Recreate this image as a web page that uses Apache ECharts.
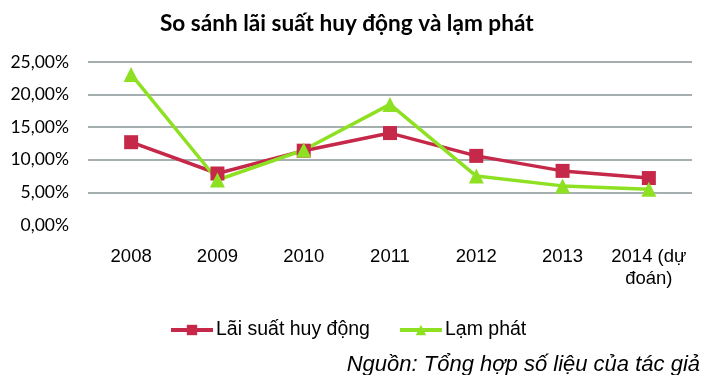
<!DOCTYPE html>
<html><head><meta charset="utf-8">
<script src="https://cdn.jsdelivr.net/npm/echarts@6/dist/echarts.min.js"></script>
<style>html,body{margin:0;padding:0;background:#fff}#c{width:709px;height:375px}</style>
</head><body><div id="c"></div>
<script>
const categories = ['2008','2009','2010','2011','2012','2013','2014 (dự\nđoán)'];
const laiSuat = [12.7, 7.9, 11.4, 14.1, 10.6, 8.3, 7.2];
const lamPhat = [23.1, 6.9, 11.5, 18.5, 7.5, 6.0, 5.5];
const yTicks = [0, 5, 10, 15, 20, 25];

const chart = echarts.init(document.getElementById('c'));
const gridColor = '#879595';
chart.setOption({
  animation: false,
  title: {
    text: 'So sánh lãi suất huy động và lạm phát',
    left: 155, top: 7,
    textStyle: {fontFamily: 'Lato', fontWeight: 'bold', fontSize: 22.6, color: '#000'}
  },
  graphic: [{
    type: 'text', right: 9, top: 354,
    style: {text: 'Nguồn: Tổng hợp số liệu của tác giả', font: 'italic 22px "Liberation Sans"', fill: '#000'}
  }],
  legend: {
    top: 315, left: 164, itemGap: 28, itemWidth: 42, itemHeight: 13,
    lineStyle: {width: 4},
    textStyle: {fontFamily: 'Liberation Sans', fontSize: 19.5, color: '#000', padding: [0,0,0,-2]},
    data: ['Lãi suất huy động', 'Lạm phát']
  },
  grid: {left: 88, right: 17, top: 62, bottom: 150},
  xAxis: {
    type: 'category', data: categories, boundaryGap: true,
    axisLine: {show: false}, axisTick: {show: false},
    axisLabel: {interval: 0, hideOverlap: false, fontFamily: 'Liberation Sans', fontSize: 18.5, color: '#000', margin: 21, lineHeight: 22}
  },
  yAxis: {
    type: 'value', min: yTicks[0], max: yTicks[yTicks.length-1], interval: 5,
    axisLine: {show: false}, axisTick: {show: false},
    axisLabel: {fontFamily: 'Lato', fontSize: 17.5, color: '#000', margin: 19,
      formatter: v => v.toFixed(2).replace('.', ',') + '%'},
    splitLine: {lineStyle: {color: ['rgba(0,0,0,0)', gridColor, gridColor, gridColor, gridColor, gridColor], width: 1.5}}
  },
  series: [
    {name: 'Lãi suất huy động', type: 'line', data: laiSuat,
     symbol: 'rect', symbolSize: 14,
     lineStyle: {color: '#c6284a', width: 3.5}, itemStyle: {color: '#c6284a'}},
    {name: 'Lạm phát', type: 'line', data: lamPhat,
     symbol: 'triangle', symbolSize: 15,
     lineStyle: {color: '#8ee023', width: 3.5}, itemStyle: {color: '#8ee023'}}
  ]
});
</script></body></html>
